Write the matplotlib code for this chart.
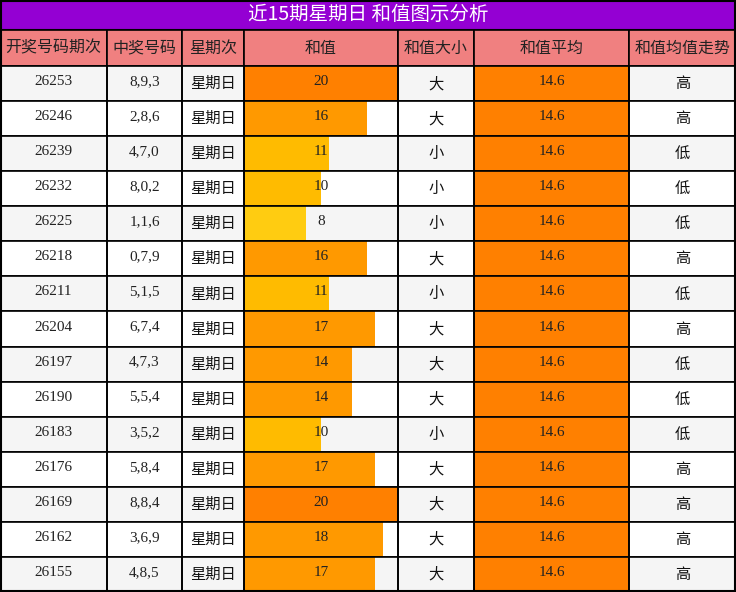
import matplotlib
matplotlib.use("Agg")
import matplotlib.pyplot as plt
from matplotlib.patches import Rectangle

title = "近15期星期日 和值图示分析"
headers = ["开奖号码期次", "中奖号码", "星期次", "和值", "和值大小", "和值平均", "和值均值走势"]
issues = ["26253","26246","26239","26232","26225","26218","26211","26204","26197","26190","26183","26176","26169","26162","26155"]
numbers = ["8,9,3","2,8,6","4,7,0","8,0,2","1,1,6","0,7,9","5,1,5","6,7,4","4,7,3","5,5,4","3,5,2","5,8,4","8,8,4","3,6,9","4,8,5"]
weekday = "星期日"
sums = [20,16,11,10,8,16,11,17,14,14,10,17,20,18,17]
size_labels = ["大","大","小","小","小","大","小","大","大","大","小","大","大","大","大"]
avg = 14.6
trend = ["高","高","低","低","低","高","低","高","低","低","低","高","高","高","高"]

W, H = 736, 592
cols = [0, 107, 182, 244, 398, 474, 629, 736]
title_h, head_h = 30, 36
row_h = (H - title_h - head_h) / len(issues)
max_sum = 20

CJK = ["Noto Sans CJK SC", "DejaVu Sans"]
SERIF = ["Liberation Serif", "DejaVu Serif"]

def bar_color(v):
    if v >= 20: return "#FF8000"
    if v >= 14: return "#FF9900"
    if v >= 9: return "#FFBB00"
    return "#FFCC11"

fig = plt.figure(figsize=(W/100, H/100), dpi=100)
ax = fig.add_axes([0, 0, 1, 1])
ax.set_xlim(0, W); ax.set_ylim(H, 0); ax.axis("off")

ax.add_patch(Rectangle((0, 0), W, title_h, fc="#9400D3", ec="black", lw=1.5))
ax.text(W/2, title_h/2, title, color="white", fontsize=14, family=CJK, ha="center", va="center")

for i, h in enumerate(headers):
    x0, x1 = cols[i], cols[i+1]
    ax.add_patch(Rectangle((x0, title_h), x1-x0, head_h, fc="#F08080", ec="black", lw=1.2))
    ax.text((x0+x1)/2, title_h+head_h/2, h, fontsize=11.5, family=CJK, ha="center", va="center", color="#222")

for r in range(len(issues)):
    y0 = title_h + head_h + r*row_h
    yc = y0 + row_h/2
    bg = "#F5F5F5" if r % 2 == 0 else "white"
    for i in range(7):
        ax.add_patch(Rectangle((cols[i], y0), cols[i+1]-cols[i], row_h, fc=bg, ec="none"))
    # sum bar
    sw = cols[4]-cols[3]
    ax.barh(yc, sums[r]/max_sum*sw, height=row_h, left=cols[3], color=bar_color(sums[r]), align="center")
    aw = cols[6]-cols[5]
    ax.barh(yc, aw, height=row_h, left=cols[5], color="#FF8000", align="center")
    for i in range(7):
        ax.add_patch(Rectangle((cols[i], y0), cols[i+1]-cols[i], row_h, fc="none", ec="black", lw=1.2))
    ax.text((cols[0]+cols[1])/2, yc-2, issues[r], family=SERIF, fontsize=11, ha="center", va="center", color="#222")
    ax.text((cols[1]+cols[2])/2, yc-2, numbers[r], family=SERIF, fontsize=11, ha="center", va="center", color="#222")
    ax.text((cols[2]+cols[3])/2, yc, weekday, family=CJK, fontsize=11, ha="center", va="center", color="#111")
    ax.text((cols[3]+cols[4])/2, yc-2, str(sums[r]), family=SERIF, fontsize=11, ha="center", va="center", color="#222")
    ax.text((cols[4]+cols[5])/2, yc, size_labels[r], family=CJK, fontsize=11, ha="center", va="center", color="#111")
    ax.text((cols[5]+cols[6])/2, yc-2, f"{avg}", family=SERIF, fontsize=11, ha="center", va="center", color="#222")
    ax.text((cols[6]+cols[7])/2, yc, trend[r], family=CJK, fontsize=11, ha="center", va="center", color="#111")

ax.add_patch(Rectangle((0.7, 0.7), W-1.4, H-1.4, fc="none", ec="black", lw=1.5))
fig.savefig("out.png", dpi=100)
